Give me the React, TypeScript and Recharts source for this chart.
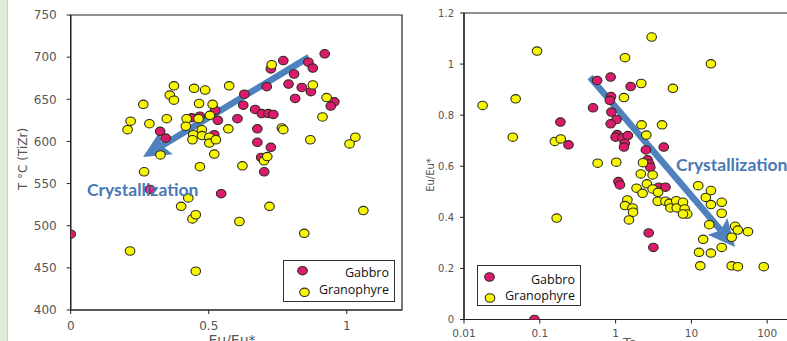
import React from 'react';
import { ScatterChart, Scatter, XAxis, YAxis, ReferenceArea, ReferenceLine } from 'recharts';

type Pt = [number, number];

// Left panel: T °C (TiZr) against Eu/Eu*
const leftGabbro: Pt[] = [
  [0, 490], [0.92, 704], [0.77, 696], [0.725, 686], [0.861, 694], [0.877, 687],
  [0.809, 680], [0.789, 668], [0.837, 664], [0.813, 651], [0.87, 659], [0.955, 647],
  [0.942, 642], [0.71, 665], [0.629, 656], [0.625, 643], [0.668, 638], [0.692, 633],
  [0.716, 633], [0.734, 632], [0.604, 627], [0.533, 625], [0.523, 637], [0.468, 630],
  [0.438, 628], [0.324, 612], [0.344, 604], [0.676, 615], [0.676, 599], [0.725, 593],
  [0.52, 608], [0.69, 581], [0.701, 564], [0.545, 538], [0.287, 543],
];

const leftGranophyre: Pt[] = [
  [0.728, 691], [0.877, 667], [0.927, 652], [0.912, 629], [0.868, 602], [1.01, 597],
  [1.031, 605], [1.06, 518], [0.846, 491], [0.72, 523], [0.611, 505], [0.453, 446],
  [0.215, 470], [0.4, 523], [0.426, 533], [0.441, 508], [0.453, 513], [0.266, 564],
  [0.468, 570], [0.622, 571], [0.7, 577], [0.712, 582], [0.52, 585], [0.325, 584],
  [0.206, 614], [0.217, 624], [0.263, 644], [0.285, 621], [0.348, 627], [0.359, 655],
  [0.374, 649], [0.374, 666], [0.447, 663], [0.487, 661], [0.574, 666], [0.465, 645],
  [0.514, 644], [0.504, 631], [0.42, 627], [0.463, 627], [0.417, 618], [0.444, 608],
  [0.441, 602], [0.475, 614], [0.476, 607], [0.502, 605], [0.502, 598], [0.526, 602],
  [0.571, 615], [0.765, 616], [0.77, 614],
];

// Right panel: Eu/Eu* against Ta (log)
const rightGabbro: Pt[] = [
  [0.085, 0], [0.187, 0.773], [0.239, 0.684], [0.57, 0.936], [0.86, 0.949], [0.504, 0.829],
  [1.58, 0.912], [0.87, 0.873], [0.84, 0.858], [0.88, 0.812], [1.03, 0.783], [0.86, 0.766],
  [1.05, 0.724], [1.0, 0.714], [1.23, 0.711], [1.45, 0.72], [1.32, 0.69], [1.29, 0.675],
  [2.51, 0.664], [4.32, 0.675], [2.64, 0.625], [2.78, 0.609], [2.87, 0.596], [1.09, 0.54],
  [1.14, 0.527], [3.71, 0.518], [4.55, 0.518], [2.73, 0.339], [3.15, 0.282],
];

const rightGranophyre: Pt[] = [
  [0.0176, 0.838], [0.048, 0.864], [0.044, 0.714], [0.092, 1.051], [0.158, 0.697],
  [0.189, 0.707], [0.167, 0.397], [0.58, 0.612], [1.02, 0.616], [1.33, 1.025],
  [2.99, 1.106], [2.18, 0.924], [5.7, 0.905], [18.1, 1.001], [1.29, 0.869],
  [2.2, 0.762], [4.1, 0.762], [2.54, 0.722], [2.3, 0.614], [2.15, 0.57],
  [3.08, 0.566], [2.59, 0.531], [3.08, 0.511], [3.63, 0.498], [1.89, 0.514],
  [2.27, 0.494], [1.43, 0.468], [1.33, 0.446], [1.67, 0.437], [1.7, 0.42],
  [1.5, 0.39], [3.6, 0.463], [4.55, 0.463], [5.14, 0.455], [5.3, 0.437],
  [6.3, 0.465], [6.4, 0.437], [7.74, 0.459], [8.15, 0.433], [8.8, 0.413],
  [7.74, 0.413], [12.3, 0.524], [15.5, 0.478], [18.1, 0.505], [18.1, 0.45],
  [25.1, 0.459], [25.1, 0.416], [17.2, 0.371], [37.8, 0.365], [41, 0.35],
  [55.7, 0.344], [34, 0.322], [14.3, 0.314], [25.1, 0.282], [12.6, 0.263],
  [18.1, 0.26], [13.1, 0.21], [34, 0.21], [41, 0.207], [90, 0.207],
];

const leftXTicks = [0, 0.5, 1];
const leftYTicks = [400, 450, 500, 550, 600, 650, 700, 750];
const rightXTicks = [0.01, 0.1, 1, 10, 100];
const rightYTicks = [0, 0.2, 0.4, 0.6, 0.8, 1, 1.2];

// arrow tail -> tip, in data units
const leftArrow: Pt[] = [[0.863, 700], [0.262, 581.5]];
const rightArrow: Pt[] = [[0.46, 0.949], [37.6, 0.284]];

const GABBRO = '#dc1a6e';
const GRANO = '#f7f700';
const OUTLINE = '#2e2b1c';
const ARROW = '#4f81bd';
const TEXT_BLUE = '#4a78b5';
const AXIS = '#222';

const rows = (pts: Pt[]) => pts.map(([x, y]) => ({ x, y }));

const dot = (fill: string) => (props: any) => (
  <ellipse cx={props.cx} cy={props.cy} rx={4.8} ry={4.2} fill={fill} stroke={OUTLINE} strokeWidth={1.1} />
);

function ArrowShape(props: any) {
  const { x1, y1, x2, y2 } = props;
  const dx = x2 - x1;
  const dy = y2 - y1;
  const len = Math.hypot(dx, dy);
  const ux = dx / len;
  const uy = dy / len;
  const head = 27;
  const half = 13;
  const notch = 5;
  const bx = x2 - ux * head;
  const by = y2 - uy * head;
  const px = -uy;
  const py = ux;
  const nx = bx + ux * notch;
  const ny = by + uy * notch;
  return (
    <g>
      <line x1={x1} y1={y1} x2={nx} y2={ny} stroke={ARROW} strokeWidth={6.5} />
      <polygon
        points={`${x2},${y2} ${bx + px * half},${by + py * half} ${nx},${ny} ${bx - px * half},${by - py * half}`}
        fill={ARROW}
      />
    </g>
  );
}

const seg = (a: Pt[]) => [
  { x: a[0][0], y: a[0][1] },
  { x: a[1][0], y: a[1][1] },
];

const tickStyle = (size: number) => ({ fill: '#555', fontSize: size, fontFamily: 'DejaVu Sans' });

function LeftPanel() {
  return (
    <ScatterChart width={420} height={341} margin={{ top: 15, right: 18, bottom: 0, left: 0 }}>
      <XAxis
        type="number"
        dataKey="x"
        domain={[0, 1.2]}
        ticks={leftXTicks}
        allowDataOverflow
        height={31}
        tickSize={4}
        tickMargin={7}
        tick={tickStyle(12)}
        tickFormatter={(v: number) => String(v)}
        axisLine={{ stroke: AXIS, strokeWidth: 1.2 }}
        tickLine={{ stroke: AXIS }}
      />
      <YAxis
        type="number"
        dataKey="y"
        domain={[400, 750]}
        ticks={leftYTicks}
        allowDataOverflow
        width={70.7}
        tickSize={4}
        tickMargin={10}
        tick={tickStyle(12)}
        axisLine={{ stroke: AXIS, strokeWidth: 1.2 }}
        tickLine={{ stroke: AXIS }}
      />
      <ReferenceArea x1={0} x2={1.2} y1={400} y2={750} fill="none" stroke={AXIS} strokeWidth={1.2} />
      <Scatter data={rows(leftGabbro)} shape={dot(GABBRO)} isAnimationActive={false} />
      <Scatter data={rows(leftGranophyre)} shape={dot(GRANO)} isAnimationActive={false} />
      <ReferenceLine segment={seg(leftArrow)} shape={ArrowShape} ifOverflow="visible" />
    </ScatterChart>
  );
}

function RightPanel() {
  return (
    <ScatterChart width={443} height={341} margin={{ top: 13, right: 0, bottom: 0, left: 0 }}>
      <XAxis
        type="number"
        dataKey="x"
        scale="log"
        domain={[0.01, 1000]}
        ticks={rightXTicks}
        allowDataOverflow
        height={21.5}
        tickSize={4}
        tickMargin={6}
        tick={tickStyle(10.5)}
        tickFormatter={(v: number) => String(v)}
        axisLine={{ stroke: AXIS, strokeWidth: 1.2 }}
        tickLine={{ stroke: AXIS }}
      />
      <YAxis
        type="number"
        dataKey="y"
        domain={[0, 1.2]}
        ticks={rightYTicks}
        allowDataOverflow
        width={64}
        tickSize={4}
        tickMargin={6}
        tick={tickStyle(10)}
        tickFormatter={(v: number) => (v === 0 || v === 1 ? String(v) : v.toFixed(1))}
        axisLine={{ stroke: AXIS, strokeWidth: 1.2 }}
        tickLine={{ stroke: AXIS }}
      />
      <ReferenceArea x1={0.01} x2={1000} y1={0} y2={1.2} fill="none" stroke={AXIS} strokeWidth={1.2} />
      <Scatter data={rows(rightGabbro)} shape={dot(GABBRO)} isAnimationActive={false} />
      <Scatter data={rows(rightGranophyre)} shape={dot(GRANO)} isAnimationActive={false} />
      <ReferenceLine segment={seg(rightArrow)} shape={ArrowShape} ifOverflow="visible" />
    </ScatterChart>
  );
}

function Legend({ x, y, w, h, gY, rY, textX, gDx, rDx }: any) {
  const font = { fontFamily: 'Open Sans', fontSize: 12.5, fill: '#111' };
  return (
    <g>
      <rect x={x} y={y} width={w} height={h} fill="#fff" stroke="#333" strokeWidth={1} />
      <ellipse cx={x + gDx} cy={gY - 2} rx={4.8} ry={4.2} fill={GABBRO} stroke={OUTLINE} strokeWidth={1.1} />
      <ellipse cx={x + rDx} cy={rY + 3} rx={4.8} ry={4.2} fill={GRANO} stroke={OUTLINE} strokeWidth={1.1} />
      <text x={textX} y={gY + 4.5} textAnchor="end" {...font}>Gabbro</text>
      <text x={textX} y={rY + 4.5} textAnchor="end" {...font}>Granophyre</text>
    </g>
  );
}

export default function App() {
  return (
    <div
      style={{
        position: 'absolute',
        left: 0,
        top: 0,
        width: 787,
        height: 341,
        overflow: 'hidden',
        background: '#fff',
      }}
    >
      <div
        style={{
          position: 'absolute',
          left: 0,
          top: 0,
          width: 7,
          height: 341,
          background: '#e2ebd8',
          borderRight: '1px solid #c5d6b3',
        }}
      />
      <div style={{ position: 'absolute', left: 0, top: 0 }}>
        <LeftPanel />
      </div>
      <div style={{ position: 'absolute', left: 400, top: 0 }}>
        <RightPanel />
      </div>
      <svg
        width={787}
        height={341}
        style={{ position: 'absolute', left: 0, top: 0, pointerEvents: 'none' }}
      >
        <text
          transform="translate(23,159) rotate(-90)"
          textAnchor="middle"
          dominantBaseline="central"
          fontFamily="DejaVu Sans"
          fontSize={12}
          fill="#555"
        >
          T °C (TiZr)
        </text>
        <text
          transform="translate(430,175) rotate(-90)"
          textAnchor="middle"
          dominantBaseline="central"
          fontFamily="DejaVu Sans"
          fontSize={10}
          fill="#555"
        >
          Eu/Eu*
        </text>
        <text x={232} y={345} textAnchor="middle" fontFamily="DejaVu Sans" fontSize={14} fill="#555">
          Eu/Eu*
        </text>
        <text x={630} y={347} textAnchor="middle" fontFamily="DejaVu Sans" fontSize={13} fill="#555">
          Ta
        </text>
        <text x={87} y={196} fontFamily="Lato" fontWeight="bold" fontSize={17.5} fill={TEXT_BLUE}>
          Crystallization
        </text>
        <text x={676} y={171} fontFamily="Lato" fontWeight="bold" fontSize={17.5} fill={TEXT_BLUE}>
          Crystallization
        </text>
        <Legend x={283.5} y={260.5} w={111} h={41} gY={272.7} rY={289.3} textX={389} gDx={19} rDx={21} />
        <Legend x={477.5} y={265.5} w={103} h={40} gY={279} rY={295} textX={575} gDx={12} rDx={12.5} />
      </svg>
    </div>
  );
}
